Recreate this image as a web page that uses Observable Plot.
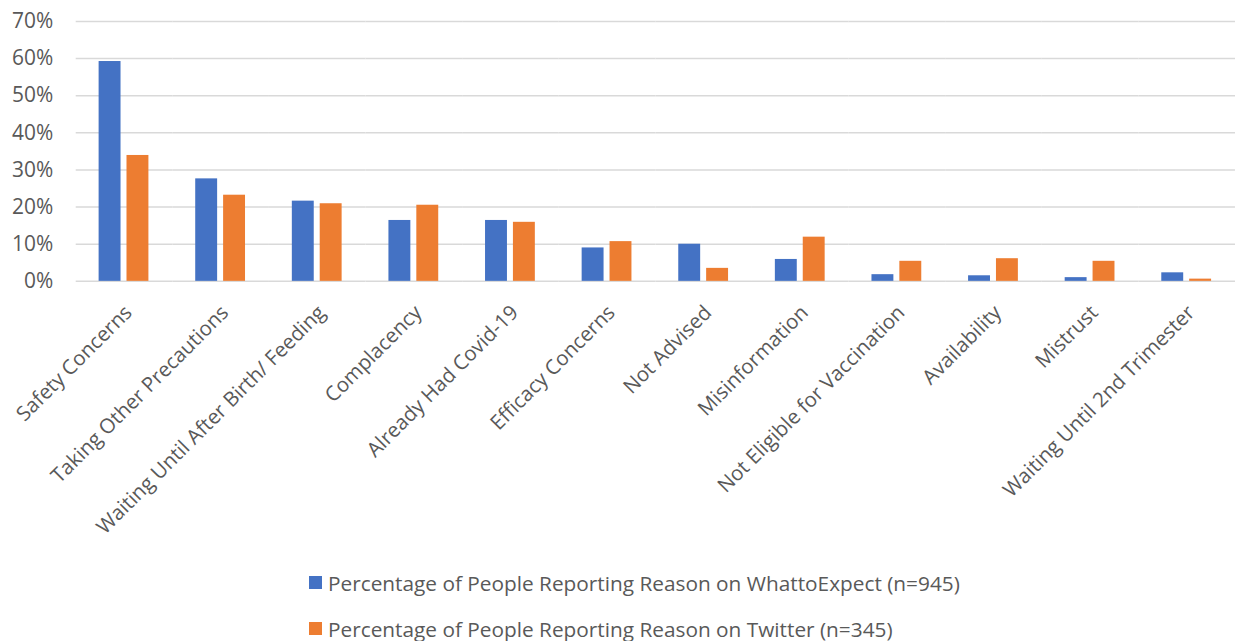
<!DOCTYPE html>
<html>
<head>
<meta charset="utf-8">
<script src="https://cdn.jsdelivr.net/npm/d3@7"></script>
<script src="https://cdn.jsdelivr.net/npm/@observablehq/plot@0.6"></script>
<style>
  html, body { margin: 0; padding: 0; background: #fff; overflow: hidden; width: 1235px; height: 641px; }
  #chart svg { display: block; overflow: visible; }
  #legend { margin-left: 309px; margin-top: 7px; font-family: "Open Sans", sans-serif; font-size: 20.8px; color: #595959; }
  #legend .item { height: 46px; line-height: 46px; display: flex; align-items: center; white-space: nowrap; }
  #legend .sw { width: 13px; height: 13px; margin-right: 6px; flex: none; }
</style>
</head>
<body>
<div id="chart"></div>
<div id="legend"></div>
<script>
const categories = [
  "Safety Concerns",
  "Taking Other Precautions",
  "Waiting Until After Birth/ Feeding",
  "Complacency",
  "Already Had Covid-19",
  "Efficacy Concerns",
  "Not Advised",
  "Misinformation",
  "Not Eligible for Vaccination",
  "Availability",
  "Mistrust",
  "Waiting Until 2nd Trimester"
];
const seriesNames = [
  "Percentage of People Reporting Reason on WhattoExpect (n=945)",
  "Percentage of People Reporting Reason on Twitter (n=345)"
];
const whattoexpectValues = [0.592, 0.276, 0.216, 0.164, 0.164, 0.090, 0.100, 0.059, 0.018, 0.015, 0.010, 0.023];
const twitterValues      = [0.339, 0.232, 0.209, 0.205, 0.159, 0.107, 0.035, 0.119, 0.054, 0.061, 0.054, 0.006];
const yTicks = [0, 0.1, 0.2, 0.3, 0.4, 0.5, 0.6, 0.7];
const seriesColors = ["#4472C4", "#ED7D31"];

const data = [];
categories.forEach((c, i) => {
  data.push({category: c, series: seriesNames[0], value: whattoexpectValues[i]});
  data.push({category: c, series: seriesNames[1], value: twitterValues[i]});
});

const chart = Plot.plot({
  width: 1240,
  height: 555,
  marginLeft: 76,
  marginRight: 0,
  marginTop: 21,
  marginBottom: 273,
  style: {fontFamily: "Open Sans, sans-serif", color: "#595959", background: "#fff", overflow: "visible"},
  fx: {domain: categories, padding: 0},
  x: {domain: seriesNames, paddingInner: 0.214, paddingOuter: 0.839, axis: null},
  y: {domain: [0, 0.7]},
  color: {domain: seriesNames, range: seriesColors},
  marks: [
    Plot.ruleY(yTicks, {stroke: "#d9d9d9", strokeWidth: 1.5}),
    Plot.barY(data, {fx: "category", x: "series", y: "value", fill: "series"}),
    Plot.axisY({ticks: yTicks, tickFormat: d3.format(".0%"), tickSize: 0, tickPadding: 23, fontSize: 21, label: null, fill: "#595959"}),
    Plot.axisFx({anchor: "bottom", tickRotate: -45, tickSize: 0, tickPadding: 0, dx: 4, dy: 28, fontSize: 20.5, label: null, fill: "#595959"})
  ]
});
document.getElementById("chart").appendChild(chart);

const legend = document.getElementById("legend");
seriesNames.forEach((name, i) => {
  const item = document.createElement("div");
  item.className = "item";
  const sw = document.createElement("span");
  sw.className = "sw";
  sw.style.background = seriesColors[i];
  const label = document.createElement("span");
  label.textContent = name;
  item.appendChild(sw);
  item.appendChild(label);
  legend.appendChild(item);
});
</script>
</body>
</html>
